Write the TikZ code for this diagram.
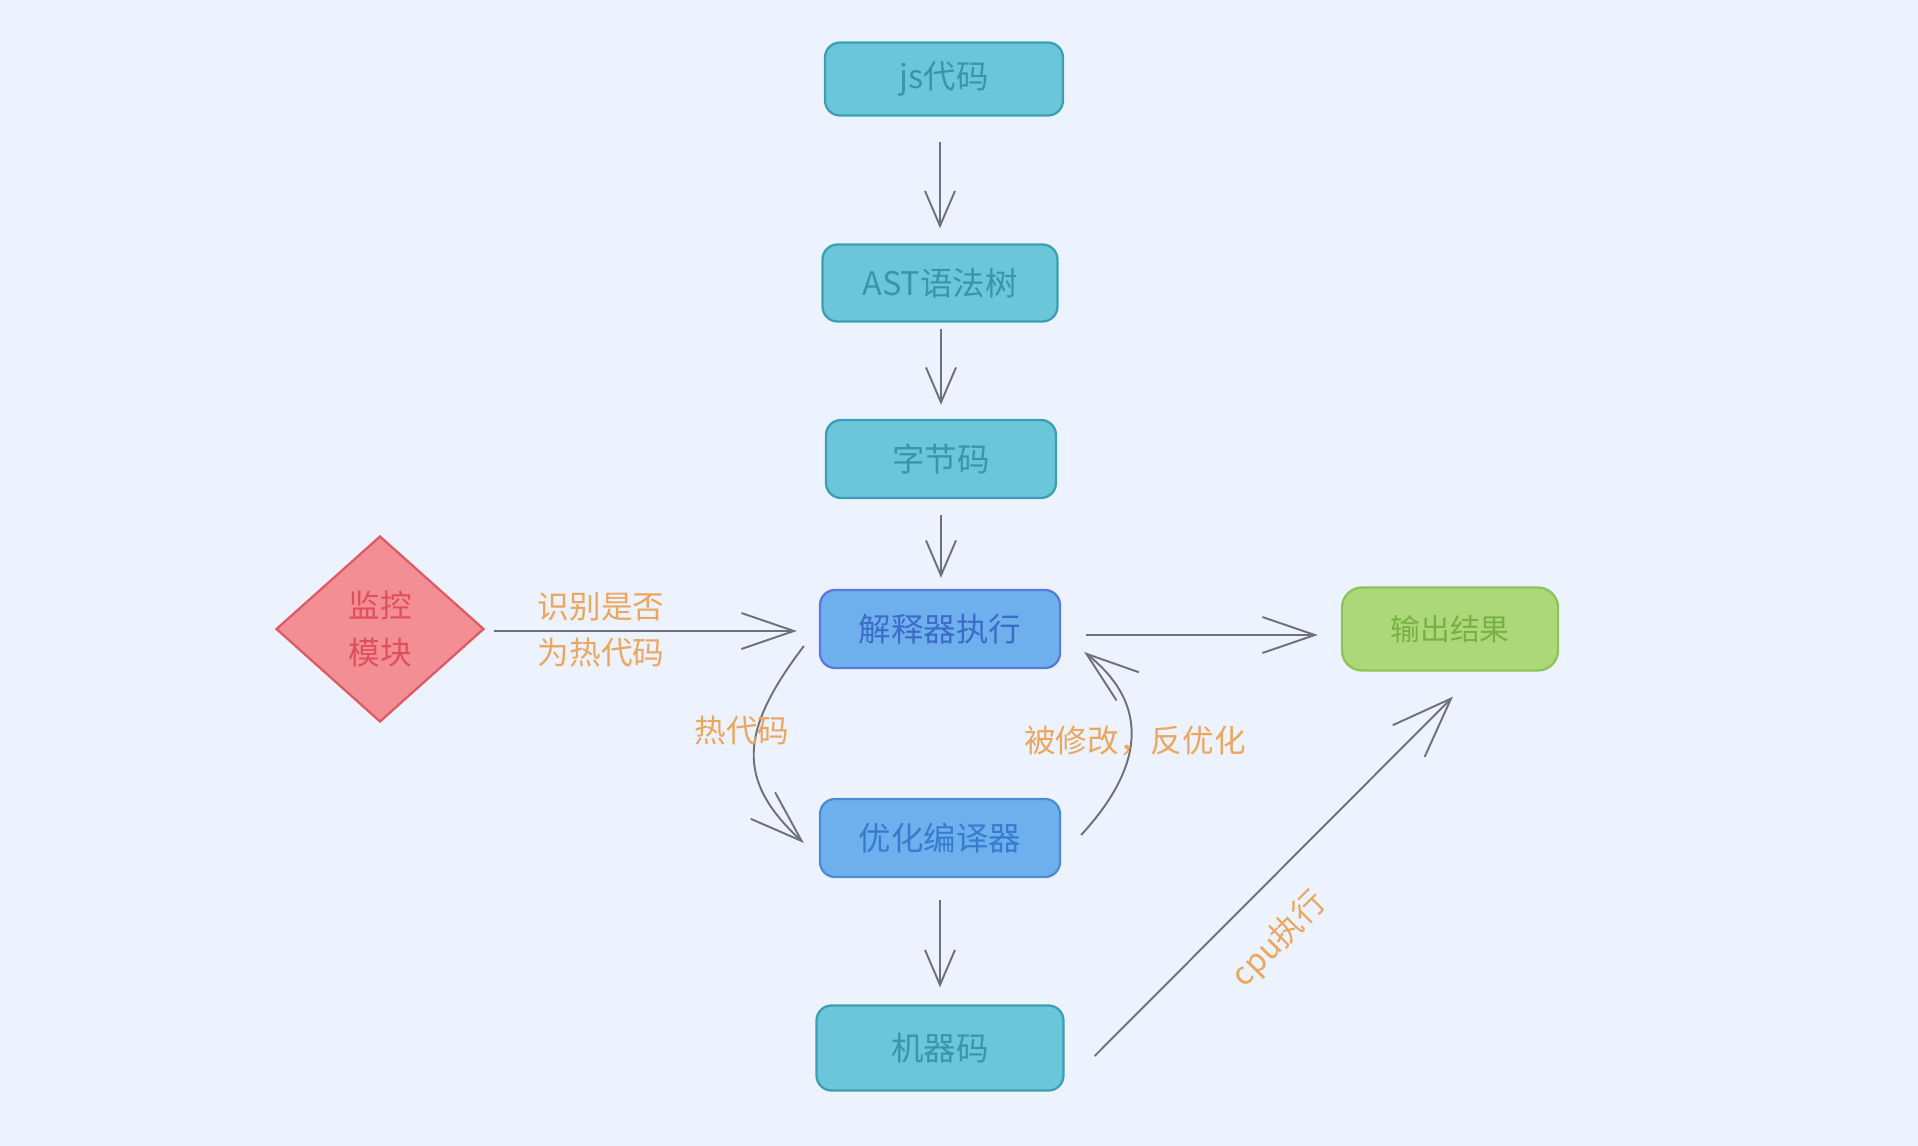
\documentclass[tikz,border=0pt]{standalone}
\usepackage{fontspec}
\setmainfont{Noto Sans CJK SC}
\usetikzlibrary{shapes.geometric,arrows.meta}

\definecolor{bgcol}{HTML}{EDF3FE}
\definecolor{cyanfill}{HTML}{6CC6DA}
\definecolor{cyanline}{HTML}{3A9FB5}
\definecolor{cyantext}{HTML}{3895AC}
\definecolor{bluefill}{HTML}{6EB0EE}
\definecolor{blueline}{HTML}{5A78E0}
\definecolor{optline}{HTML}{4A8CD6}
\definecolor{bluetext}{HTML}{3C6CC8}
\definecolor{greenfill}{HTML}{ADD879}
\definecolor{greenline}{HTML}{8CC45A}
\definecolor{greentext}{HTML}{78B046}
\definecolor{redfill}{HTML}{F48E95}
\definecolor{redline}{HTML}{E05A64}
\definecolor{redtext}{HTML}{DE505A}
\definecolor{lblcol}{HTML}{ECA65E}
\definecolor{arrowgray}{HTML}{6E717A}

\begin{document}
\begin{tikzpicture}[x=0.02cm, y=-0.02cm,
    box/.style={rounded corners=0.3cm, line width=1.3pt, minimum width=4.8cm, minimum height=1.56cm, font=\fontsize{18.5}{22}\selectfont},
    cyanbox/.style={box, fill=cyanfill, draw=cyanline, text=cyantext},
    bluebox/.style={box, fill=bluefill, draw=blueline, text=bluetext},
    arr/.style={draw=arrowgray, line width=1.1pt, -{Straight Barb[length=0.7cm,width=0.6cm]}},
    bigarr/.style={draw=arrowgray, line width=1.1pt, -{Straight Barb[length=1.05cm,width=0.72cm]}},
    lbl/.style={text=lblcol, font=\fontsize{18}{26.5}\selectfont, align=center}]

    % background
    \fill[bgcol] (0,0) rectangle (1918,1146);
    \useasboundingbox (0,0) rectangle (1918,1146);

    % main column
    \node[cyanbox, minimum width=4.76cm, minimum height=1.46cm] (js) at (944,79) {js代码};
    \node[cyanbox, minimum width=4.7cm, minimum height=1.54cm] (ast) at (940,283) {AST语法树};
    \node[cyanbox, minimum width=4.6cm] (bc) at (941,459) {字节码};
    \node[bluebox] (interp) at (940,629) {解释器执行};
    \node[bluebox, draw=optline, text=bluetext!90!cyan] (opt) at (940,838) {优化编译器};
    \node[cyanbox, minimum width=4.94cm, minimum height=1.7cm] (mc) at (940,1048) {机器码};

    % side nodes
    \node[box, rounded corners=0.4cm, minimum width=4.32cm, minimum height=1.66cm, fill=greenfill, draw=greenline, text=greentext, font=\fontsize{17}{20}\selectfont] (out) at (1450,629) {输出结果};
    \node[diamond, minimum width=4.16cm, minimum height=3.72cm, inner sep=0pt, line width=1.3pt, fill=redfill, draw=redline, text=redtext, align=center, font=\fontsize{18}{26.5}\selectfont] (mon) at (380,629) {监控\\模块};

    % straight arrows
    \draw[arr, shorten <=0.5cm, shorten >=0.3cm] (js.south -| ast.north) -- (ast.north);
    \draw[arr, shorten <=0.12cm, shorten >=0.28cm] (ast.south -| bc.north) -- (bc.north);
    \draw[arr, shorten <=0.32cm, shorten >=0.22cm] (bc.south) -- (bc.south |- interp.north);
    \draw[arr, shorten <=0.44cm, shorten >=0.34cm] (opt.south) -- (mc.north);

    \draw[bigarr] ([shift={(9,2)}]mon.east) -- ([shift={(-22,2)}]interp.west);
    \node[lbl] (hotq) at (601,630) {识别是否\\为热代码};
    \draw[bigarr] ([shift={(25,6)}]interp.east) -- ([shift={(-23,6)}]out.west);
    \draw[bigarr, -{Straight Barb[length=1.2cm,width=0.9cm]}] ([shift={(30,8)}]mc.east) -- ([shift={(3,25)}]out.south)
        node[lbl, pos=0.42, sloped, below=0.5cm] (cpu) {cpu执行};

    % curved arrows
    \draw[bigarr] ([shift={(-15,17)}]interp.west) .. controls (740,730) and (735,780) .. ([shift={(-15,5)}]opt.west);
    \node[lbl] (hot) at (742,731) {热代码};

    \draw[bigarr] ([shift={(20,-3)}]opt.east) .. controls (1150,760) and (1145,700) .. ([shift={(23,23)}]interp.east);
    \node[lbl] (deopt) at (1135,741) {被修改，反优化};

\end{tikzpicture}
\end{document}
